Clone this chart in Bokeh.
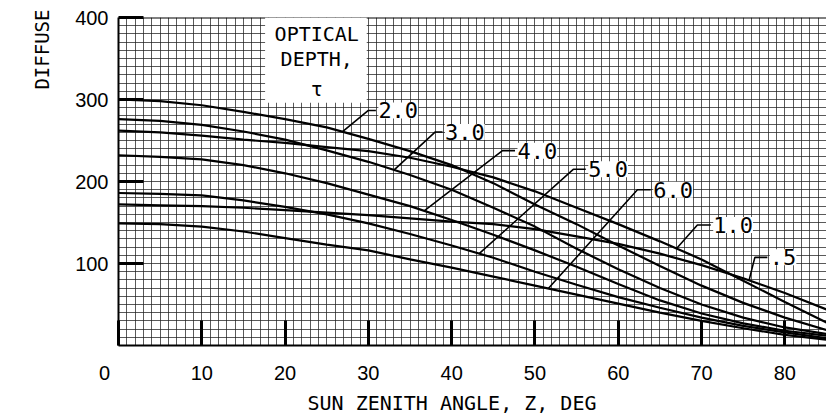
import numpy as np
from bokeh.plotting import figure
from bokeh.models import Range1d, FixedTicker, Label, BoxAnnotation, Span, Title
from bokeh.embed import file_html
from bokeh.resources import INLINE

# ---- data ----
zenith = [0, 5, 10, 15, 20, 25, 30, 35, 40, 45, 50, 55, 60, 65, 70, 75, 80, 85]
tau_05 = [172, 171, 170, 168, 165, 162, 159, 155, 151, 148, 142, 133, 124, 112, 98, 82, 64, 44]
tau_10 = [262, 260, 256, 251, 247, 242, 237, 229, 218, 205, 188, 168, 148, 127, 105, 79, 53, 28]
tau_20 = [300, 298, 293, 285, 276, 266, 252, 237, 220, 198, 172, 148, 122, 97, 73, 52, 34, 19]
tau_30 = [276, 274, 269, 261, 251, 238, 224, 208, 190, 168, 145, 118, 93, 70, 50, 34, 22, 14]
tau_40 = [232, 230, 227, 220, 210, 198, 184, 170, 153, 135, 116, 96, 75, 55, 39, 27, 18, 12]
tau_50 = [186, 185, 183, 177, 169, 160, 149, 136, 122, 107, 90, 74, 59, 46, 34, 24, 16, 9]
tau_60 = [149, 148, 145, 139, 131, 123, 116, 105, 95, 84, 73, 62, 51, 40, 30, 21, 13, 7]

curve_names = ["2.0", "3.0", "4.0", "5.0", "6.0", "1.0", ".5"]
curve_series = [tau_20, tau_30, tau_40, tau_50, tau_60, tau_10, tau_05]
# where each leader touches its curve (zenith angle)
leader_z = [26.9, 33.1, 36.7, 43.3, 51.6, 67.0, 75.7]
# leader knee and label placement (data units)
knee_z = [30.0, 38.0, 46.1, 54.6, 62.3, 69.5, 76.4]
label_z = [31.2, 39.2, 47.9, 56.4, 64.2, 71.4, 78.2]
label_v = [286.6, 260.3, 237.6, 214.9, 189.9, 146.9, 107.5]

NB = "\u00a0"
x_ticks = [0, 10, 20, 30, 40, 50, 60, 70, 80]
x_tick_labels = ["0" + NB * 5, "10", "20", "30", "40", "50", "60", "70", "80"]
y_ticks = [100, 200, 300, 400]
x_grid = list(range(0, 86))
y_grid = list(range(0, 401, 10))

MONO = "DejaVu Sans Mono"
SANS = "Liberation Sans"

p = figure(width=826, height=417, x_range=Range1d(0, 85), y_range=Range1d(0, 400),
           output_backend="svg", toolbar_location=None,
           min_border_left=118, min_border_right=0, min_border_top=17, min_border_bottom=65)
p.outline_line_color = None
p.background_fill_color = "white"
p.border_fill_color = "white"

# grid
p.xgrid.ticker = FixedTicker(ticks=x_grid)
p.ygrid.ticker = FixedTicker(ticks=y_grid)
for g in (p.xgrid, p.ygrid):
    g.grid_line_color = "#222222"
    g.grid_line_alpha = 0.75
    g.grid_line_width = 1

# axes
p.xaxis.ticker = FixedTicker(ticks=x_ticks)
p.xaxis.major_label_overrides = {t: s for t, s in zip(x_ticks, x_tick_labels)}
p.yaxis.ticker = FixedTicker(ticks=y_ticks)
for ax in (p.xaxis, p.yaxis):
    ax.axis_line_color = "black"
    ax.axis_line_width = 2
    ax.major_tick_in = 25
    ax.major_tick_out = 0
    ax.major_tick_line_width = 3
    ax.major_tick_line_color = "black"
    ax.minor_tick_line_color = None
    ax.major_label_text_font = SANS
    ax.major_label_text_font_size = "20px"
    ax.major_label_text_color = "black"
p.xaxis.major_label_standoff = 16
p.yaxis.major_label_standoff = 10

p.add_layout(Span(location=400, dimension="width", line_color="black", line_width=2))

# x-axis title
xtitle = Title(text="SUN ZENITH ANGLE, Z, DEG", align="left", offset=189,
               text_font=MONO, text_font_size="20px", text_font_style="normal",
               text_color="black")
try:
    xtitle.standoff = 5
except Exception:
    pass
p.add_layout(xtitle, "below")

# y-axis title at the top of the left side
ytitle = Title(text="DIFFUSE", align="right", offset=-8, vertical_align="middle",
               text_font=MONO, text_font_size="19px", text_font_style="normal",
               text_color="black")
try:
    ytitle.standoff = 38
except Exception:
    pass
p.add_layout(ytitle, "left")

# curves
for vals in curve_series:
    p.line(zenith, vals, line_color="black", line_width=2.2)

# "OPTICAL DEPTH, tau" box
p.add_layout(BoxAnnotation(left=17.6, right=29.8, bottom=296, top=400,
                           fill_color="white", fill_alpha=1.0, line_color=None))
for txt, yy in [("OPTICAL", 379.7), ("DEPTH,", 349.9), ("τ", 312.8)]:
    p.add_layout(Label(x=23.8, y=yy, text=txt, text_font=MONO, text_font_size="20px",
                       text_align="center", text_baseline="middle", text_color="black"))

# leaders and curve labels
for name, vals, lz, kz, tz, tv in zip(curve_names, curve_series, leader_z, knee_z, label_z, label_v):
    cv = float(np.interp(lz, zenith, vals))
    p.line([lz, kz, tz - 0.3], [cv, tv, tv], line_color="black", line_width=1.6)
    p.add_layout(Label(x=tz, y=tv, text=name, text_font=MONO, text_font_size="22px",
                       text_align="left", text_baseline="middle", text_color="black",
                       background_fill_color="white", background_fill_alpha=1.0))

open("out.html", "w").write(file_html(p, INLINE))
